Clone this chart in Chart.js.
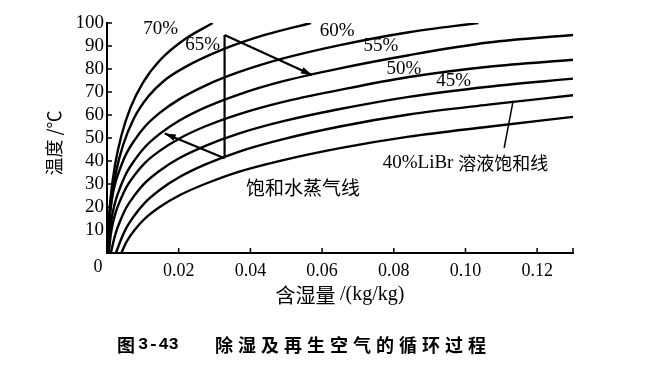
<!DOCTYPE html>
<html>
<head>
<meta charset="utf-8">
<script src="https://cdn.jsdelivr.net/npm/chart.js@4"></script>
<style>
  html, body { margin: 0; background: #fff; }
</style>
</head>
<body>
<canvas id="chart" width="663" height="373"></canvas>
<script>
// axis ticks
const xTicks = [0, 0.02, 0.04, 0.06, 0.08, 0.10, 0.12, 0.13];
const yTicks = [10, 20, 30, 40, 50, 60, 70, 80, 90, 100];

// LiBr solution curves [moisture content kg/kg, temperature C]
const c70 = [[0.0001,0],[0.0004,12],[0.0010,24],[0.0022,38],[0.0040,51],[0.0065,63],[0.0100,74],[0.0149,84],[0.0214,92.6],[0.0295,100]];
const c65 = [[0.0002,0],[0.0005,10],[0.0012,22],[0.0025,35],[0.0045,47],[0.0075,58.5],[0.0115,68],[0.0160,75],[0.0214,80.5],[0.0325,88.6],[0.0440,94.8],[0.0569,100]];
const c60 = [[0.0002,0],[0.0004,7.8],[0.0006,13.7],[0.0010,19.6],[0.0016,25.5],[0.0025,31.4],[0.0038,37.3],[0.0054,43.2],[0.0077,49.1],[0.0106,55],[0.0147,60.9],[0.0201,66.8],[0.0273,72.7],[0.0367,78.6],[0.0489,84.5],[0.0650,90.4],[0.0842,96],[0.1036,100]];
const c55 = [[0.0004,0],[0.0006,6.2],[0.0010,11.9],[0.0016,17.6],[0.0025,23.3],[0.0038,29],[0.0054,34.7],[0.0077,40.4],[0.0106,46.1],[0.0147,51.8],[0.0201,57.5],[0.0273,63.2],[0.0367,68.9],[0.0489,74.6],[0.0650,80.3],[0.0842,86],[0.1064,91.5],[0.1300,94.8]];
const c50 = [[0.0005,0],[0.0010,7.4],[0.0016,12.7],[0.0025,18],[0.0038,23.3],[0.0054,28.6],[0.0077,33.9],[0.0106,39.2],[0.0147,44.4],[0.0201,49.7],[0.0273,55],[0.0367,60.3],[0.0489,65.6],[0.0650,70.9],[0.0842,76.5],[0.1064,81],[0.1300,84]];
const c45 = [[0.0011,0],[0.0016,3.7],[0.0025,9],[0.0038,14.4],[0.0054,19.8],[0.0077,25.1],[0.0106,30.5],[0.0147,35.8],[0.0201,41.2],[0.0273,46.5],[0.0367,51.9],[0.0489,57.2],[0.0650,62.6],[0.0842,67.9],[0.1064,72.3],[0.1300,75.8]];
const c40 = [[0.0025,0],[0.0038,5.4],[0.0054,10.9],[0.0077,16.4],[0.0106,21.9],[0.0147,27.4],[0.0201,32.9],[0.0273,38.4],[0.0367,44],[0.0489,49.4],[0.0650,55],[0.0842,60.2],[0.1064,64.5],[0.1300,68.6]];
const sat = [[0.0040,0],[0.0055,5],[0.0077,10],[0.0106,15],[0.0147,20],[0.0201,25],[0.0273,30],[0.0367,35.3],[0.0489,40.3],[0.0650,45.6],[0.0842,50.6],[0.1064,54.9],[0.1300,59.2]];

// dehumidify / regenerate cycle
const cycleVert = [[0.0328,94.8],[0.0328,41.2]];
const cycleRegen = [[0.0328,94.8],[0.0572,77.4]];
const cycleDehum = [[0.0328,41.2],[0.0161,52.0]];
const pointer = [[0.1133,66.1],[0.1108,45.7]];

// text labels placed in data units
const curveLabels = ["70%", "65%", "60%", "55%", "50%", "45%"];
const curveLabelPos = [[0.0150,97.4],[0.0267,90.4],[0.0642,96.5],[0.0764,89.8],[0.0828,80.2],[0.0967,74.6]];
const noteLibr = "40%LiBr 溶液饱和线";
const noteLibrPos = [0.1000, 39.1];
const noteSat = "饱和水蒸气线";
const noteSatPos = [0.0547, 28.3];

const toXY = (arr) => arr.map(([x, y]) => ({ x: x, y: y }));

const lineSet = (arr) => ({
  data: toXY(arr),
  borderColor: "#000",
  borderWidth: 2.4,
  pointRadius: 0,
  fill: false,
  cubicInterpolationMode: "monotone",
});

const straightSet = (arr, w) => ({
  data: toXY(arr),
  borderColor: "#000",
  borderWidth: w,
  pointRadius: 0,
  fill: false,
  tension: 0,
});

const serif = "'Liberation Serif', 'DejaVu Serif', serif";
const cjk = "'Noto Sans CJK SC', sans-serif";

const extras = {
  id: "extras",
  afterDraw(chart) {
    const { ctx, scales: { x, y } } = chart;
    const px = (v) => x.getPixelForValue(v);
    const py = (v) => y.getPixelForValue(v);
    ctx.save();
    ctx.strokeStyle = "#000";
    ctx.fillStyle = "#000";

    // inward tick marks
    ctx.lineWidth = 1.5;
    ctx.beginPath();
    yTicks.forEach((v) => {
      ctx.moveTo(x.left, py(v));
      ctx.lineTo(x.left + 5, py(v));
    });
    xTicks.slice(1).forEach((v) => {
      ctx.moveTo(px(v), y.bottom);
      ctx.lineTo(px(v), y.bottom - 5);
    });
    ctx.stroke();

    // arrow heads
    const arrow = (seg) => {
      const [x0, y0] = [px(seg[0][0]), py(seg[0][1])];
      const [x1, y1] = [px(seg[1][0]), py(seg[1][1])];
      const a = Math.atan2(y1 - y0, x1 - x0);
      ctx.beginPath();
      ctx.moveTo(x1, y1);
      ctx.lineTo(x1 - 11 * Math.cos(a) + 3.5 * Math.sin(a), y1 - 11 * Math.sin(a) - 3.5 * Math.cos(a));
      ctx.lineTo(x1 - 11 * Math.cos(a) - 3.5 * Math.sin(a), y1 - 11 * Math.sin(a) + 3.5 * Math.cos(a));
      ctx.closePath();
      ctx.fill();
    };
    arrow(cycleRegen);
    arrow(cycleDehum);

    // curve labels
    ctx.textAlign = "center";
    ctx.textBaseline = "middle";
    ctx.font = "19px " + serif;
    curveLabels.forEach((t, i) => {
      ctx.fillText(t, px(curveLabelPos[i][0]), py(curveLabelPos[i][1]));
    });
    ctx.font = "19px " + cjk;
    ctx.fillText(noteSat, px(noteSatPos[0]), py(noteSatPos[1]));
    ctx.font = "19px " + serif;
    const w1 = ctx.measureText("40%LiBr ").width;
    ctx.font = "18px " + cjk;
    const w2 = ctx.measureText("溶液饱和线").width;
    const lx = px(noteLibrPos[0]) - (w1 + w2) / 2;
    ctx.textAlign = "left";
    ctx.font = "19px " + serif;
    ctx.fillText("40%LiBr ", lx, py(noteLibrPos[1]));
    ctx.font = "18px " + cjk;
    ctx.fillText("溶液饱和线", lx + w1, py(noteLibrPos[1]));

    // shared origin label
    ctx.textAlign = "center";
    ctx.font = "18px " + serif;
    ctx.fillText("0", x.left - 9, y.bottom + 14);

    // axis titles
    ctx.font = "18px " + cjk;
    ctx.save();
    ctx.translate(54, (y.top + y.bottom) / 2 + 5);
    ctx.rotate(-Math.PI / 2);
    ctx.fillText("温度 /℃", 0, 0);
    ctx.restore();
    ctx.font = "20px " + cjk;
    const t1 = "含湿量 ";
    const t2 = "/(kg/kg)";
    const a1 = ctx.measureText(t1).width;
    ctx.font = "20px " + serif;
    const a2 = ctx.measureText(t2).width;
    const tx = (x.left + x.right) / 2 - (a1 + a2) / 2;
    ctx.textAlign = "left";
    ctx.font = "20px " + cjk;
    ctx.fillText(t1, tx, 295);
    ctx.font = "20px " + serif;
    ctx.fillText(t2, tx + a1, 295);

    // caption
    ctx.font = "bold 18px " + cjk;
    ctx.fillText("图", 117, 345);
    ctx.font = "bold 17px 'Liberation Mono', monospace";
    ctx.fillText("3-43", 138, 345);
    ctx.font = "bold 18px " + cjk;
    ctx.letterSpacing = "5px";
    ctx.fillText("除湿及再生空气的循环过程", 215, 345);
    ctx.restore();
  },
};

new Chart(document.getElementById("chart"), {
  type: "line",
  data: {
    datasets: [
      lineSet(c70), lineSet(c65), lineSet(c60), lineSet(c55),
      lineSet(c50), lineSet(c45), lineSet(c40), lineSet(sat),
      straightSet(cycleVert, 2.2), straightSet(cycleRegen, 2.2),
      straightSet(cycleDehum, 2.2), straightSet(pointer, 1.5),
    ],
  },
  options: {
    responsive: false,
    devicePixelRatio: 1,
    animation: false,
    layout: { padding: { left: 57, right: 90, top: 23, bottom: 0 } },
    plugins: { legend: { display: false }, tooltip: { enabled: false } },
    scales: {
      x: {
        type: "linear",
        min: 0,
        max: 0.13,
        afterBuildTicks: (s) => { s.ticks = xTicks.map((v) => ({ value: v })); },
        afterFit: (s) => { s.height = 120; },
        grid: { display: true, drawOnChartArea: false, drawTicks: false },
        border: { display: true, color: "#000", width: 2 },
        ticks: {
          padding: 7,
          color: "#000",
          maxRotation: 0,
          autoSkip: false,
          font: { family: serif, size: 18 },
          callback: (v) => (v === 0 || v === 0.13 ? "" : v.toFixed(2)),
        },
      },
      y: {
        min: 0,
        max: 100,
        afterBuildTicks: (s) => { s.ticks = yTicks.map((v) => ({ value: v })); },
        afterFit: (s) => { s.width = 50; },
        grid: { display: true, drawOnChartArea: false, drawTicks: false },
        border: { display: true, color: "#000", width: 2 },
        ticks: {
          padding: 3,
          color: "#000",
          autoSkip: false,
          font: { family: serif, size: 19 },
        },
      },
    },
  },
  plugins: [extras],
});
</script>
</body>
</html>
